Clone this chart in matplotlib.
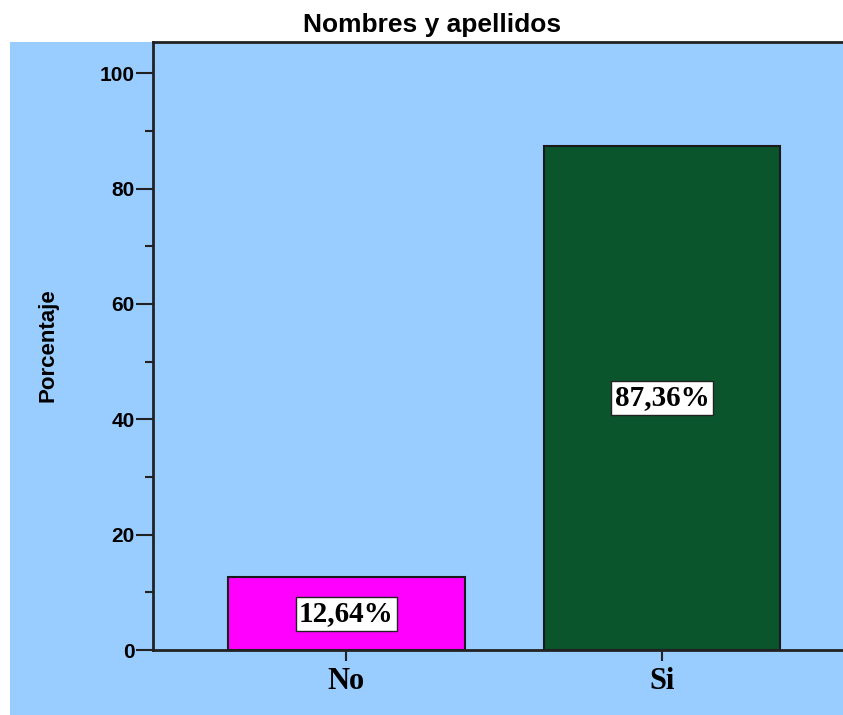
import matplotlib
matplotlib.use("Agg")
import matplotlib.pyplot as plt
from matplotlib.patches import Rectangle

categories = ["No", "Si"]
percentages = [12.64, 87.36]
value_labels = ["12,64%", "87,36%"]
bar_colors = ["#ff00ff", "#0b552d"]
y_ticks = [0, 20, 40, 60, 80, 100]
y_minor = [10, 30, 50, 70, 90]

BG = "#99ccff"

fig = plt.figure(figsize=(8.43, 7.15), dpi=100)
fig.patch.set_facecolor("white")

# blue panel behind the axes
fig.add_artist(Rectangle((10 / 843, 0), 1 - 10 / 843, 673 / 715,
                         transform=fig.transFigure, facecolor=BG,
                         edgecolor="none", zorder=-1))

ax = fig.add_axes([153 / 843, 65 / 715, 1 - 153 / 843, (650 - 42) / 715])
ax.set_facecolor(BG)

x = list(range(len(categories)))
ax.bar(x, percentages, width=0.75, color=bar_colors,
       edgecolor="#1a1a1a", linewidth=1.5, zorder=2)

for xi, val, lab in zip(x, percentages, value_labels):
    ax.text(xi, val / 2, lab, ha="center", va="center",
            fontsize=21, fontweight="bold", family="Liberation Serif",
            zorder=3,
            bbox=dict(boxstyle="square,pad=0.12", facecolor="white",
                      edgecolor="#222222", linewidth=1))

ax.set_xlim(-0.613, 1.574)
ax.set_ylim(0, 105.4)

ax.set_xticks(x)
ax.set_xticklabels(categories, fontsize=22, fontweight="bold",
                   family="Liberation Serif")
ax.tick_params(axis="x", length=8, width=1.5, color="#222222", pad=4)

ax.set_yticks(y_ticks)
ax.set_yticks(y_minor, minor=True)
ax.set_yticklabels([str(t) for t in y_ticks], fontsize=15,
                   fontweight="bold", family="Liberation Sans")
ax.tick_params(axis="y", which="major", length=12, width=1.5,
               color="#222222", pad=1)
ax.tick_params(axis="y", which="minor", length=6, width=1.5,
               color="#222222")

for side in ["left", "bottom", "top"]:
    ax.spines[side].set_linewidth(2)
    ax.spines[side].set_color("#222222")
ax.spines["right"].set_visible(False)

fig.text(48 / 843, (715 - 345) / 715, "Porcentaje", rotation=90,
         ha="center", va="center", fontsize=16, fontweight="bold",
         family=["Liberation Sans Narrow", "Liberation Sans"])

fig.text(432 / 843, (715 - 25) / 715, "Nombres y apellidos",
         ha="center", va="center", fontsize=19, fontweight="bold",
         family="Liberation Sans")

fig.savefig("out.png", dpi=100, facecolor="white")
